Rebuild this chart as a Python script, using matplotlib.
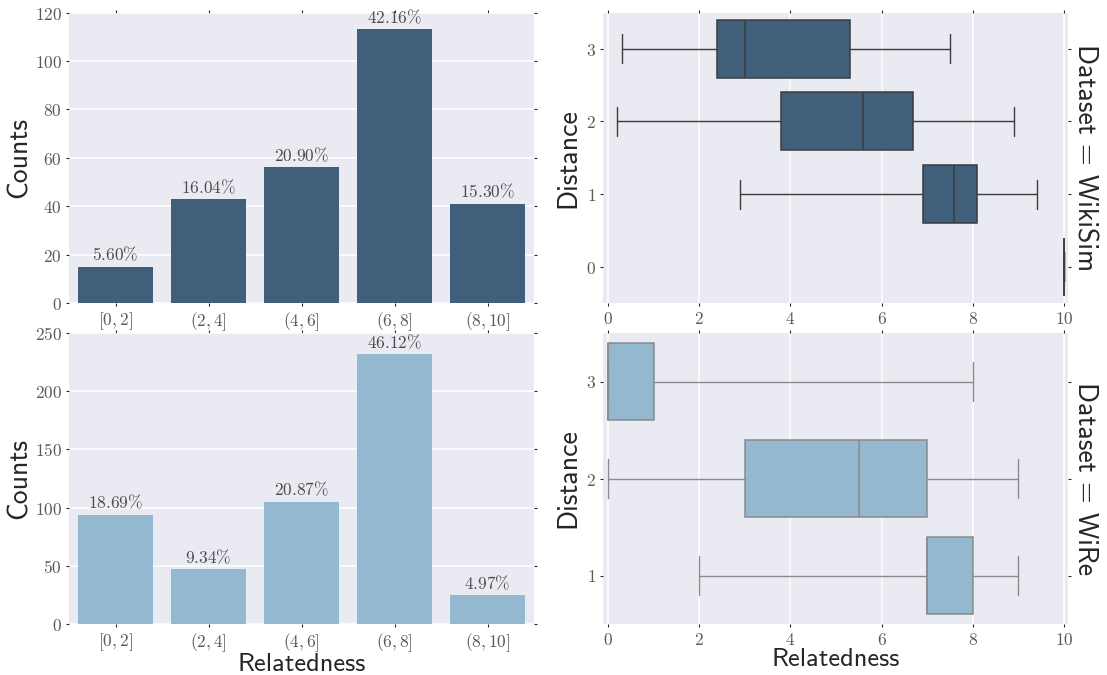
import matplotlib.pyplot as plt
import seaborn as sns
from matplotlib.ticker import FuncFormatter

# relatedness bins and counts per dataset
bins = ['[0,2]', '(2,4]', '(4,6]', '(6,8]', '(8,10]']
wikisim_counts = [15, 43, 56, 113, 41]
wire_counts = [94, 47, 105, 232, 25]

# relatedness by path distance: (distance, whislo, q1, med, q3, whishi)
wikisim_dist = [
    (3, 0.3, 2.4, 3.0, 5.3, 7.5),
    (2, 0.2, 3.8, 5.6, 6.7, 8.9),
    (1, 2.9, 6.9, 7.6, 8.1, 9.4),
    (0, 10.0, 10.0, 10.0, 10.0, 10.0),
]
wire_dist = [
    (3, 0.0, 0.0, 0.0, 1.0, 8.0),
    (2, 0.0, 3.0, 5.5, 7.0, 9.0),
    (1, 2.0, 7.0, 7.0, 8.0, 9.0),
]

datasets = ['WikiSim', 'WiRe']
dark_blue = '#3f5f7a'
light_blue = '#95b8d1'

sns.set_style('darkgrid')
plt.rcParams['mathtext.fontset'] = 'cm'

W, H = 1107, 675
fig = plt.figure(figsize=(W / 100, H / 100), dpi=100)

def px_axes(x0, y0, x1, y1):
    return fig.add_axes([x0 / W, 1 - y1 / H, (x1 - x0) / W, (y1 - y0) / H])

mathfmt = FuncFormatter(lambda v, pos: '$%g$' % v)
label_font = dict(family='cmss10', fontsize=20, color='.15')
xlabel_font = dict(label_font, fontsize=19)

def style_ticks(ax):
    ax.tick_params(which='both', direction='out', length=2, width=0.8,
                   color='.15', labelsize=12.5, labelcolor='.35', pad=3,
                   top=True, right=True, left=True, bottom=True)
    for s in ax.spines.values():
        s.set_visible(False)

rows = [(12.5, 303), (333, 624)]
bar_axes = [px_axes(69, r[0], 534, r[1]) for r in rows]
box_axes = [px_axes(603, r[0], 1068, r[1]) for r in rows]

# count histograms
for ax, counts, color, top in zip(bar_axes, [wikisim_counts, wire_counts],
                                  [dark_blue, light_blue], [120, 250]):
    total = sum(counts)
    ax.set_axisbelow(True)
    ax.bar(range(len(bins)), counts, width=0.8, color=color, linewidth=0)
    for i, c in enumerate(counts):
        ax.annotate('$%.2f\\%%$' % (100.0 * c / total), (i, c),
                    xytext=(0, 1.5), textcoords='offset points',
                    ha='center', va='bottom', fontsize=12.5, color='.3')
    ax.set_xlim(-0.5, len(bins) - 0.5)
    ax.set_ylim(0, top)
    ax.set_xticks(range(len(bins)))
    ax.set_xticklabels(['$%s$' % b for b in bins])
    ax.yaxis.set_major_formatter(mathfmt)
    ax.grid(False, axis='x')
    ax.grid(True, axis='y', color='white', linewidth=1.1)
    ax.set_ylabel('Counts', labelpad=2, **label_font)
    style_ticks(ax)
bar_axes[1].set_yticks(range(0, 251, 50))
bar_axes[1].set_xlabel('Relatedness', labelpad=-0.5, **xlabel_font)

# relatedness by distance
for ax, dist, color, edge, name in zip(box_axes, [wikisim_dist, wire_dist],
                                       [dark_blue, light_blue],
                                       ['#3c3c3c', '#8a8a8a'], datasets):
    stats = [dict(med=m, q1=a, q3=b, whislo=lo, whishi=hi, fliers=[])
             for d, lo, a, m, b, hi in dist]
    pos = [d[0] for d in dist]
    ax.set_axisbelow(True)
    ax.bxp(stats, positions=pos, vert=False, widths=0.8, patch_artist=True,
           showfliers=False,
           boxprops=dict(facecolor=color, edgecolor=edge, linewidth=1.1),
           medianprops=dict(color=edge, linewidth=1.1),
           whiskerprops=dict(color=edge, linewidth=1.0),
           capprops=dict(color=edge, linewidth=1.0))
    ax.set_xlim(-0.11, 10.09)
    ax.set_ylim(min(pos) - 0.5, max(pos) + 0.5)
    ax.set_yticks(sorted(pos))
    ax.set_xticks(range(0, 11, 2))
    ax.xaxis.set_major_formatter(mathfmt)
    ax.yaxis.set_major_formatter(mathfmt)
    ax.grid(True, axis='x', color='white', linewidth=1.1)
    ax.grid(False, axis='y')
    ax.set_ylabel('Distance', labelpad=4, **label_font)
    ax.annotate('Dataset = %s' % name, xy=(1.01, 0.5), xycoords='axes fraction',
                rotation=270, ha='left', va='center', **label_font)
    style_ticks(ax)
box_axes[1].set_xlabel('Relatedness', labelpad=-0.5, **xlabel_font)

fig.savefig('out.png', dpi=100)
